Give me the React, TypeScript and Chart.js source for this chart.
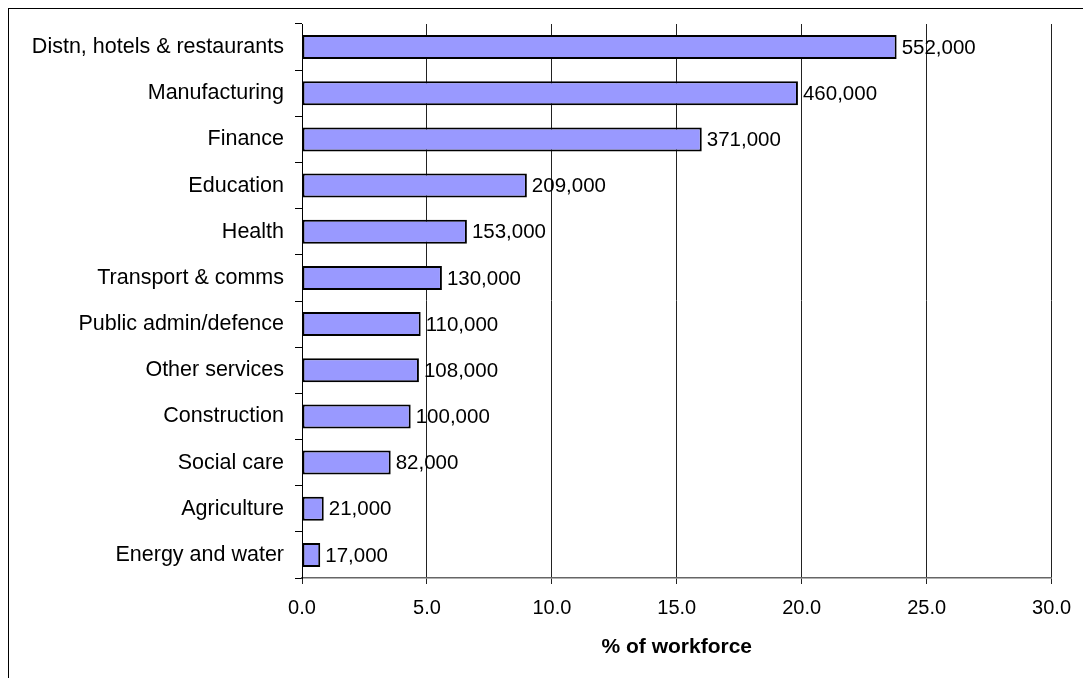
import React, { useEffect, useRef } from "react";
import { Chart, registerables } from "chart.js";

Chart.register(...registerables);

const categories = [
  "Distn, hotels & restaurants",
  "Manufacturing",
  "Finance",
  "Education",
  "Health",
  "Transport & comms",
  "Public admin/defence",
  "Other services",
  "Construction",
  "Social care",
  "Agriculture",
  "Energy and water",
];

const sharePercent = [23.8, 19.85, 16.0, 9.0, 6.6, 5.6, 4.75, 4.68, 4.35, 3.55, 0.87, 0.73];

const workers = [552000, 460000, 371000, 209000, 153000, 130000, 110000, 108000, 100000, 82000, 21000, 17000];

const xMin = 0;
const xMax = 30;
const xStep = 5;
const xTitle = "% of workforce";

const FONT = "'Liberation Sans', Arial, Helvetica, sans-serif";

const valueLabels = {
  id: "valueLabels",
  afterDatasetsDraw(chart: any) {
    const ctx = chart.ctx;
    const meta = chart.getDatasetMeta(0);
    ctx.save();
    ctx.font = `20.5px ${FONT}`;
    ctx.fillStyle = "#000";
    ctx.textAlign = "left";
    ctx.textBaseline = "middle";
    meta.data.forEach((bar: any, i: number) => {
      ctx.fillText(workers[i].toLocaleString("en-US"), bar.x + 5, bar.y + 1);
    });
    ctx.restore();
  },
};

export default function App() {
  const canvasRef = useRef<HTMLCanvasElement | null>(null);

  useEffect(() => {
    if (!canvasRef.current) return;
    const chart = new Chart(canvasRef.current, {
      type: "bar",
      data: {
        labels: categories,
        datasets: [
          {
            data: sharePercent,
            backgroundColor: "#9999FF",
            borderColor: "#000000",
            borderWidth: 2,
            borderSkipped: false,
            barPercentage: 0.52,
            categoryPercentage: 1,
          },
        ],
      },
      options: {
        indexAxis: "y",
        animation: false,
        responsive: false,
        devicePixelRatio: 1,
        layout: { padding: { top: 15, right: 28, bottom: 0, left: 0 } },
        plugins: {
          legend: { display: false },
          tooltip: { enabled: false },
        },
        scales: {
          x: {
            type: "linear",
            min: xMin,
            max: xMax,
            ticks: {
              stepSize: xStep,
              color: "#000",
              padding: 12,
              font: { family: FONT, size: 20 },
              maxRotation: 0,
              callback: (v: any) => Number(v).toFixed(1),
            },
            grid: {
              color: "#222",
              lineWidth: 1,
              tickLength: 6,
              drawTicks: true,
            },
            border: { color: "#666", width: 1.5 },
            title: {
              display: true,
              text: xTitle,
              color: "#000",
              font: { family: FONT, size: 21, weight: "bold" },
              padding: { top: 0, bottom: 18 },
            },
            afterFit: (scale: any) => {
              scale.height = 100;
            },
          },
          y: {
            type: "category",
            ticks: {
              color: "#000",
              padding: 11,
              font: { family: FONT, size: 21.5 },
            },
            grid: {
              drawOnChartArea: false,
              drawTicks: true,
              tickLength: 7,
              color: "#000",
              offset: true,
            },
            border: { color: "#000", width: 1 },
            afterFit: (scale: any) => {
              scale.width = 293;
              scale.paddingTop = 0;
              scale.paddingBottom = 0;
            },
          },
        },
      },
      plugins: [valueLabels],
    } as any);
    return () => chart.destroy();
  }, []);

  return (
    <div
      style={{
        position: "fixed",
        left: 8,
        top: 8,
        width: 1075,
        height: 670,
        boxSizing: "border-box",
        borderLeft: "1px solid #000",
        borderTop: "1px solid #000",
        background: "#fff",
        overflow: "hidden",
      }}
    >
      <canvas ref={canvasRef} width={1074} height={669} style={{ display: "block" }} />
    </div>
  );
}
